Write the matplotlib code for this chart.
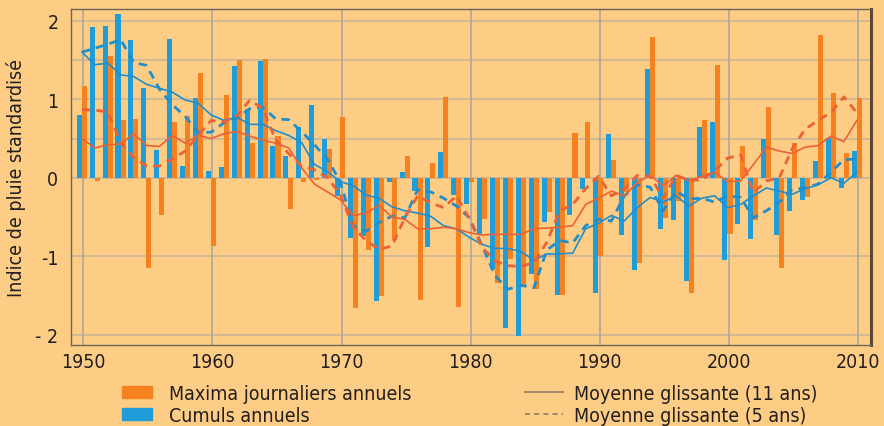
import numpy as np
import matplotlib.pyplot as plt
from matplotlib.patches import Patch
from matplotlib.lines import Line2D

# standardized rainfall index, 1950-2010
years = np.arange(1950, 2011)

maxima = [1.17, -0.04, 1.55, 0.74, 0.75, -1.15, -0.48, 0.71, 0.79, 1.34,
          -0.87, 1.05, 1.50, 0.44, 1.51, 0.53, -0.40, -0.06, -0.03, 0.37,
          0.77, -1.66, -0.92, -1.51, -0.79, 0.28, -1.56, 0.19, 1.03, -1.65,
          -0.05, -0.52, -1.34, -1.03, -1.38, -1.42, -0.43, -1.49, 0.57, 0.71,
          -1.00, 0.23, -0.18, -1.08, 1.79, -0.51, -0.30, -1.47, 0.74, 1.44,
          -0.71, 0.40, -0.54, 0.90, -1.15, 0.44, -0.24, 1.82, 1.08, 0.31,
          1.02]

cumuls = [0.80, 1.92, 1.93, 2.09, 1.76, 1.14, 0.35, 1.77, 0.15, 1.02,
          0.085, 0.14, 1.42, 0.88, 1.49, 0.40, 0.28, 0.65, 0.93, 0.49,
          -0.23, -0.77, -0.74, -1.57, -0.06, 0.07, -0.17, -0.88, 0.33, -0.22,
          -0.33, -0.72, -1.16, -1.91, -2.02, -1.22, -0.56, -1.49, -0.47, -0.14,
          -1.47, 0.56, -0.73, -1.17, 1.39, -0.65, -0.54, -1.31, 0.65, 0.71,
          -1.05, -0.59, -0.78, 0.49, -0.73, -0.42, -0.28, 0.21, 0.51, -0.13,
          0.34]

# moving averages
maxima_11 = [0.50, 0.38, 0.42, 0.43, 0.56, 0.41, 0.40, 0.54, 0.44, 0.54,
             0.50, 0.56, 0.59, 0.53, 0.48, 0.44, 0.38, 0.13, -0.08, -0.18,
             -0.28, -0.48, -0.45, -0.35, -0.50, -0.53, -0.65, -0.65, -0.63, -0.65,
             -0.70, -0.73, -0.72, -0.72, -0.72, -0.65, -0.64, -0.63, -0.61, -0.34,
             -0.26, -0.17, -0.23, -0.06, 0.03, -0.10, 0.03, -0.04, 0.02, 0.07,
             -0.05, -0.04, 0.17, 0.39, 0.34, 0.31, 0.39, 0.41, 0.53, 0.46,
             0.73]

maxima_5 = [0.87, 0.86, 0.84, 0.45, 0.26, 0.15, 0.15, 0.24, 0.34, 0.54,
            0.73, 0.71, 0.79, 0.99, 0.88, 0.48, 0.31, 0.15, 0.10, 0.00,
            -0.21, -0.63, -0.80, -0.91, -0.87, -0.51, -0.23, -0.32, -0.38, -0.23,
            -0.52, -0.89, -1.06, -1.12, -1.13, -1.08, -0.82, -0.42, -0.34, -0.14,
            0.02, -0.23, -0.14, 0.03, 0.02, -0.26, 0.03, -0.03, -0.03, 0.09,
            0.25, 0.29, -0.19, -0.04, 0.00, 0.37, 0.62, 0.73, 0.83, 1.03,
            0.83]

cumuls_11 = [1.60, 1.44, 1.46, 1.31, 1.29, 1.19, 1.14, 1.09, 0.99, 0.95,
             0.80, 0.73, 0.77, 0.68, 0.68, 0.60, 0.54, 0.45, 0.17, 0.08,
             -0.05, -0.10, -0.22, -0.26, -0.37, -0.42, -0.45, -0.49, -0.61, -0.65,
             -0.76, -0.85, -0.90, -0.90, -0.94, -1.05, -0.97, -0.97, -0.96, -0.65,
             -0.58, -0.48, -0.55, -0.38, -0.25, -0.31, -0.23, -0.36, -0.26, -0.23,
             -0.38, -0.34, -0.23, -0.13, -0.17, -0.21, -0.14, -0.09, 0.00, -0.07,
             0.07]

cumuls_5 = [1.60, 1.65, 1.70, 1.76, 1.47, 1.43, 1.13, 0.93, 0.78, 0.58,
            0.58, 0.70, 0.76, 0.88, 0.90, 0.75, 0.74, 0.59, 0.42, 0.24,
            -0.05, -0.61, -0.68, -0.57, -0.49, -0.51, -0.15, -0.18, -0.26, -0.36,
            -0.51, -0.87, -1.25, -1.42, -1.37, -1.40, -0.92, -0.80, -0.83, -0.61,
            -0.53, -0.55, -0.23, -0.09, -0.12, -0.42, -0.17, -0.27, -0.26, -0.31,
            -0.23, -0.25, -0.51, -0.42, -0.31, -0.15, -0.13, -0.08, 0.07, 0.23,
            0.24]

BG = '#FECD85'
ORANGE = '#F5821F'
BLUE = '#1E9DD8'
ORANGE_LINE = '#EE6134'
BLUE_LINE = '#1F8ECD'
TXT = '#231F20'

plt.rcParams['font.family'] = ['DejaVu Sans']
plt.rcParams['font.stretch'] = 'condensed'
FS = 14

fig = plt.figure(figsize=(8.84, 4.27), dpi=100, facecolor=BG)
ax = fig.add_axes([0.0803, 0.1897, 0.905, 0.787], facecolor=BG)

w = 0.39
ax.bar(years - 0.31, cumuls, width=w, color=BLUE, zorder=3)
ax.bar(years + 0.08, maxima, width=w, color=ORANGE, zorder=3)

xl = years - 0.1
ax.plot(xl, cumuls_11, color=BLUE_LINE, lw=1.2, zorder=4)
ax.plot(xl, cumuls_5, color=BLUE_LINE, lw=2.0, ls=(0, (3, 2.2)), zorder=4)
ax.plot(xl, maxima_11, color=ORANGE_LINE, lw=1.2, zorder=4)
ax.plot(xl, maxima_5, color=ORANGE_LINE, lw=2.0, ls=(0, (3, 2.2)), zorder=4)

ax.set_xlim(1949.05, 2011.0)
ax.set_ylim(-2.13, 2.15)

# grid
for yv in [2, 1.5, 1, 0.5, 0, -1, -2]:
    ax.axhline(yv, color='#C9B597', lw=1.2, zorder=1)
for xv in range(1950, 2011, 10):
    ax.axvline(xv, color='#A9A7A0', lw=1.2, zorder=1)

ax.set_xticks(range(1950, 2011, 10))
ax.set_yticks([-2, -1, 0, 1, 2])
ax.set_yticklabels(['- 2', '-1', '0', '1', '2'])
ax.tick_params(length=0, labelsize=FS, colors=TXT)
ax.tick_params(axis='x', pad=5)
ax.tick_params(axis='y', pad=9)
ax.set_ylabel('Indice de pluie standardisé', fontsize=FS, color=TXT, labelpad=7)

for s in ['left', 'top', 'bottom']:
    ax.spines[s].set_color('#6E6358')
    ax.spines[s].set_linewidth(1.0)
ax.spines['right'].set_color('#5A4632')
ax.spines['right'].set_linewidth(2.2)

h1 = [Patch(color=ORANGE), Patch(color=BLUE)]
leg1 = fig.legend(h1, ['Maxima journaliers annuels', 'Cumuls annuels'],
                  loc='upper left', bbox_to_anchor=(0.138, 0.098),
                  frameon=False, fontsize=FS, handlelength=1.55,
                  handleheight=0.6, handletextpad=0.85, labelspacing=0.15,
                  borderpad=0, borderaxespad=0, labelcolor=TXT)
h2 = [Line2D([], [], color='#8C7D68', lw=1.2),
      Line2D([], [], color='#8C7D68', lw=1.2, ls=(0, (3, 2.5)))]
leg2 = fig.legend(h2, ['Moyenne glissante (11 ans)', 'Moyenne glissante (5 ans)'],
                  loc='upper left', bbox_to_anchor=(0.594, 0.098),
                  frameon=False, fontsize=FS, handlelength=1.95,
                  handletextpad=0.55, labelspacing=0.15,
                  borderpad=0, borderaxespad=0, labelcolor=TXT)

fig.savefig('out.png', dpi=100, facecolor=BG)
